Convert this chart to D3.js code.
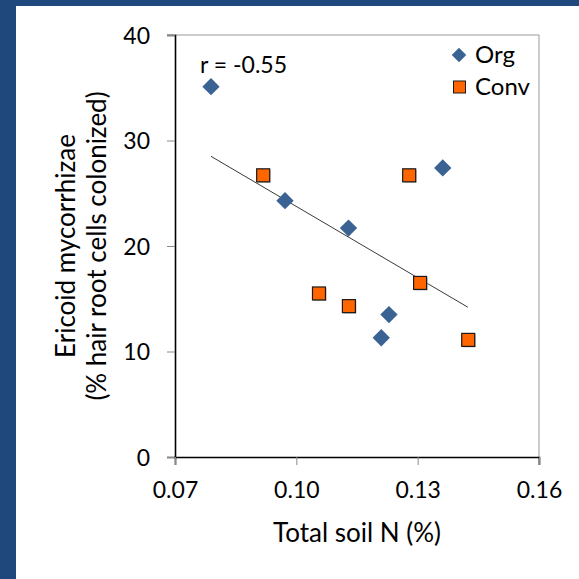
<!DOCTYPE html>
<html>
<head>
<meta charset="utf-8">
<script src="https://cdn.jsdelivr.net/npm/d3@7"></script>
<style>
  body { margin: 0; background: #fff; }
  svg text { font-family: Lato, "Open Sans", sans-serif; fill: #000; }
</style>
</head>
<body>
<svg id="chart" width="579" height="579"></svg>
<script>
// data
var orgN    = [0.0789, 0.0972, 0.1362, 0.1129, 0.1229, 0.1210];
var orgEM   = [35.1, 24.3, 27.4, 21.7, 13.5, 11.3];
var convN   = [0.0918, 0.1279, 0.1056, 0.1130, 0.1306, 0.1425];
var convEM  = [26.7, 26.7, 15.5, 14.3, 16.5, 11.1];
var trendN  = [0.0789, 0.1424];
var trendEM = [28.5, 14.2];
var xTicks  = [0.07, 0.10, 0.13, 0.16];
var yTicks  = [0, 10, 20, 30, 40];

var svg = d3.select("#chart");

// dark blue slide frame
svg.append("rect").attr("x", 0).attr("y", 0).attr("width", 579).attr("height", 579).attr("fill", "#1F497D");
svg.append("rect").attr("x", 16).attr("y", 6).attr("width", 563).attr("height", 573).attr("fill", "#fff");

var pLeft = 175, pRight = 539, pTop = 35, pBottom = 457;

var x = d3.scaleLinear().domain([0.07, 0.16]).range([pLeft, pRight]);
var y = d3.scaleLinear().domain([0, 40]).range([pBottom, pTop]);

// plot border (top + right, grey)
svg.append("path")
    .attr("d", "M" + (pLeft - 8) + "," + pTop + "H" + pRight + "V" + (pBottom + 8))
    .attr("fill", "none")
    .attr("stroke", "#9a9a9a")
    .attr("stroke-width", 1);

// y axis
var yAxis = svg.append("g")
    .attr("transform", "translate(" + pLeft + ",0)")
    .call(d3.axisLeft(y).tickValues(yTicks).tickSize(8).tickPadding(17).tickFormat(d3.format("d")));
yAxis.select(".domain").attr("stroke", "#000").attr("stroke-width", 1.6);
yAxis.selectAll(".tick line").attr("stroke", "#8a8a8a");
yAxis.selectAll(".tick text").style("font-size", "23px").attr("dy", "0.35em");

// x axis
var xAxis = svg.append("g")
    .attr("transform", "translate(0," + pBottom + ")")
    .call(d3.axisBottom(x).tickValues(xTicks).tickSize(8).tickPadding(17).tickFormat(d3.format(".2f")));
xAxis.select(".domain").attr("stroke", "#000").attr("stroke-width", 1.6);
xAxis.selectAll(".tick line").attr("stroke", "#8a8a8a");
xAxis.selectAll(".tick text").style("font-size", "23px").attr("dy", "0.71em");

// axis titles
svg.append("text")
    .attr("x", (pLeft + pRight) / 2)
    .attr("y", 542)
    .attr("text-anchor", "middle")
    .style("font-size", "26px")
    .text("Total soil N (%)");

var yTitle = svg.append("text")
    .attr("transform", "translate(75," + (pTop + pBottom) / 2 + ") rotate(-90)")
    .attr("text-anchor", "middle")
    .style("font-size", "26px");
yTitle.append("tspan").attr("x", 0).attr("y", 0).text("Ericoid mycorrhizae");
yTitle.append("tspan").attr("x", 0).attr("y", 31).text("(% hair root cells colonized)");

// trend line
svg.append("line")
    .attr("x1", x(trendN[0])).attr("y1", y(trendEM[0]))
    .attr("x2", x(trendN[1])).attr("y2", y(trendEM[1]))
    .attr("stroke", "#222")
    .attr("stroke-width", 0.9);

var orgColor = "#3A6394", convColor = "#FF6600";
var diamond = d3.symbol().type(d3.symbolSquare).size(150);

// Org diamonds
svg.append("g").selectAll("path")
    .data(d3.range(orgN.length))
    .enter().append("path")
    .attr("d", diamond)
    .attr("transform", function(i) { return "translate(" + x(orgN[i]) + "," + y(orgEM[i]) + ") rotate(45)"; })
    .attr("fill", orgColor);

// Conv squares (with light shadow)
var conv = svg.append("g").selectAll("g")
    .data(d3.range(convN.length))
    .enter().append("g")
    .attr("transform", function(i) { return "translate(" + x(convN[i]) + "," + y(convEM[i]) + ")"; });
conv.append("rect")
    .attr("x", -5.5).attr("y", -5.5).attr("width", 13).attr("height", 13)
    .attr("fill", "#bbb");
conv.append("rect")
    .attr("x", -6.5).attr("y", -6.5).attr("width", 13).attr("height", 13)
    .attr("fill", convColor)
    .attr("stroke", "#1a1a1a")
    .attr("stroke-width", 1.2);

// r annotation
svg.append("text")
    .attr("x", 200)
    .attr("y", 73)
    .style("font-size", "23px")
    .text("r = -0.55");

// legend
var legend = svg.append("g");
legend.append("path")
    .attr("d", d3.symbol().type(d3.symbolSquare).size(105))
    .attr("transform", "translate(459,55) rotate(45)")
    .attr("fill", orgColor);
legend.append("text").attr("x", 475).attr("y", 63).style("font-size", "24px").text("Org");
legend.append("rect")
    .attr("x", 453.5).attr("y", 81).attr("width", 12).attr("height", 12)
    .attr("fill", convColor)
    .attr("stroke", "#1a1a1a")
    .attr("stroke-width", 1);
legend.append("text").attr("x", 475).attr("y", 95).style("font-size", "24px").text("Conv");
</script>
</body>
</html>
